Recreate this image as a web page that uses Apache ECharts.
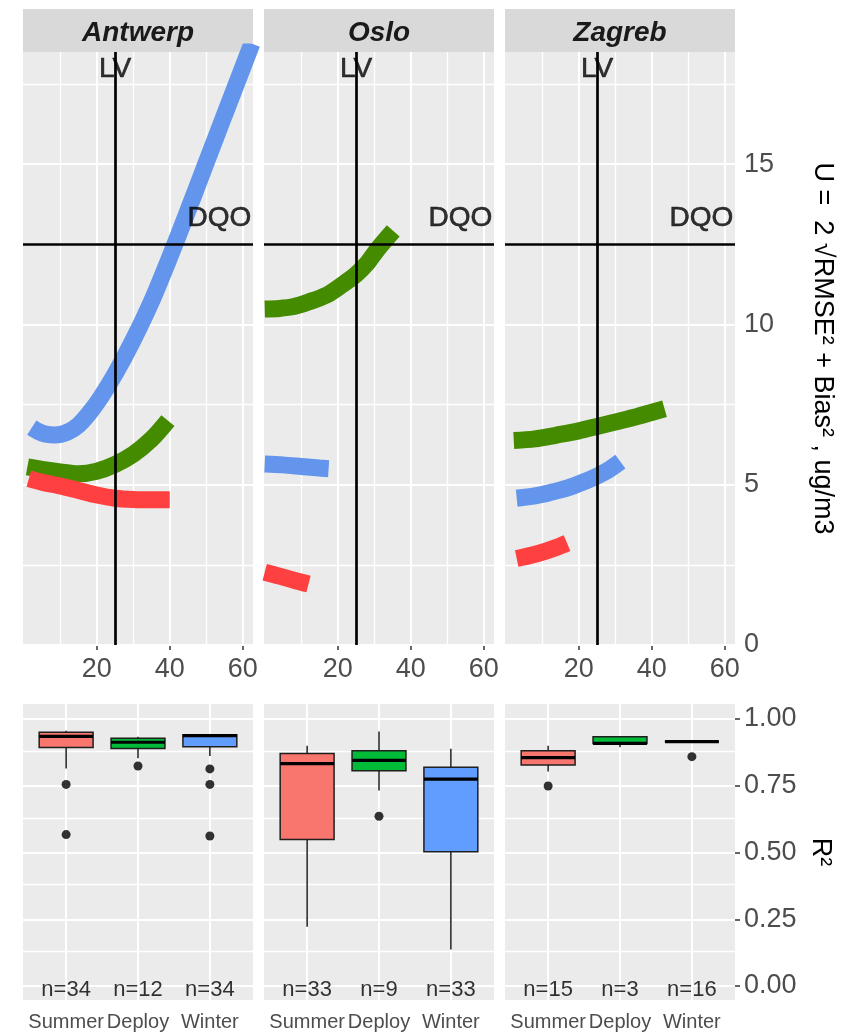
<!DOCTYPE html>
<html><head><meta charset="utf-8">
<script src="https://cdn.jsdelivr.net/npm/echarts@6/dist/echarts.min.js"></script>
<style>html,body{margin:0;padding:0;background:#fff}#c{width:846px;height:1036px}</style>
</head><body><div id="c"></div>
<script>
// ---------- data ----------
const cities = ['Antwerp', 'Oslo', 'Zagreb'];
const seasons = ['Summer', 'Deploy', 'Winter'];
const seasonColors = ['#F8766D', '#00BA38', '#619CFF'];
const curveColors = ['#458B00', '#6495ED', '#FF4040']; // green, blue, red

// U curves: [concentration, U]
const antwerpGreen = [[1,5.56],[5,5.48],[10,5.4],[15,5.34],[20,5.42],[25,5.63],[30,5.95],[35,6.42],[39.5,7.0]];
const antwerpBlue  = [[2.2,6.78],[4,6.66],[6,6.58],[8.5,6.55],[12,6.64],[15,6.86],[18,7.24],[21,7.71],[25,8.45],[30,9.52],[35,10.72],[40,12.1],[45,13.56],[50,15.05],[55,16.54],[60,18.02],[62.5,18.76]];
const antwerpRed   = [[1.4,5.19],[5,5.08],[10,4.96],[15,4.82],[20,4.68],[25,4.58],[30,4.54],[35,4.53],[40,4.53]];
const osloGreen = [[0,10.48],[4,10.5],[8,10.56],[12,10.7],[17,10.92],[21,11.22],[25,11.56],[28,11.9],[31,12.36],[35.2,12.92]];
const osloBlue  = [[0,5.65],[5,5.62],[10,5.57],[15,5.52],[17.5,5.5]];
const osloRed   = [[0,2.27],[4,2.15],[8,2.02],[12,1.9]];
const zagrebGreen = [[2.2,6.38],[8,6.43],[14,6.55],[20,6.68],[25,6.82],[30,6.96],[36,7.13],[43.5,7.37]];
const zagrebBlue  = [[3,4.58],[8,4.65],[12,4.75],[17,4.9],[21,5.07],[25,5.27],[28,5.45],[31.4,5.72]];
const zagrebRed   = [[3,2.7],[7,2.8],[11,2.93],[14,3.05],[16.8,3.18]];

// reference lines and annotations
const refLV = 25;
const refDQO = 12.5;
const annoLabels = ['LV', 'DQO'];
const annoX = [25, 53.6];
const annoY = [17.95, 13.3];

// boxplot stats per season: [min, q1, median, q3, max]
const antwerpBox = [[0.815,0.893,0.935,0.950,0.956],[0.853,0.890,0.913,0.928,0.934],[0.861,0.896,0.938,0.941,0.942]];
const osloBox    = [[0.222,0.549,0.833,0.871,0.900],[0.732,0.806,0.845,0.881,0.953],[0.137,0.503,0.775,0.819,0.889]];
const zagrebBox  = [[0.803,0.828,0.855,0.881,0.900],[0.894,0.908,0.909,0.934,0.936],[0.915,0.915,0.915,0.915,0.915]];
// outliers: [season position, R2]
const antwerpOut = [[1,0.755],[1,0.567],[2,0.824],[3,0.813],[3,0.755],[3,0.562]];
const osloOut    = [[2,0.636]];
const zagrebOut  = [[1,0.749],[3,0.859]];
const antwerpN = [34, 12, 34];
const osloN    = [33, 9, 33];
const zagrebN  = [15, 3, 16];
const nLabelY = 0;

// axes ticks / grid breaks
const topXTicks = [20, 40, 60];
const topXMinor = [10, 30, 50];
const topYTicks = [0, 5, 10, 15];
const topYMinor = [2.5, 7.5, 12.5, 17.5];
const boxXTicks = [1, 2, 3];
const boxYTicks = [0, 0.25, 0.5, 0.75, 1];
const boxYMinor = [0.125, 0.375, 0.625, 0.875];

const curves = [[antwerpGreen, antwerpBlue, antwerpRed],[osloGreen, osloBlue, osloRed],[zagrebGreen, zagrebBlue, zagrebRed]];
const boxes = [antwerpBox, osloBox, zagrebBox];
const outs = [antwerpOut, osloOut, zagrebOut];
const ns = [antwerpN, osloN, zagrebN];

// ---------- layout ----------
const FONT = 'Liberation Sans';
const panelLeft = [23, 264, 505];
const panelW = 230;
const topT = 52, topH = 593, botT = 704, botH = 296;
const boxWidth = 0.75;

const grids = [], xAxes = [], yAxes = [], series = [];

function gridLineData(xMaj, xMin, yMaj, yMin) {
  const d = [];
  xMaj.forEach(v => d.push({xAxis: v, lineStyle: {color: '#fff', width: 2, type: 'solid'}}));
  xMin.forEach(v => d.push({xAxis: v, lineStyle: {color: '#fff', width: 1.3, type: 'solid'}}));
  yMaj.forEach(v => d.push({yAxis: v, lineStyle: {color: '#fff', width: 2, type: 'solid'}}));
  yMin.forEach(v => d.push({yAxis: v, lineStyle: {color: '#fff', width: 1.3, type: 'solid'}}));
  return d;
}
function markLineOpt(data, z) {
  return {silent: true, z: z, symbol: ['none', 'none'], animation: false,
    label: {show: false}, emphasis: {disabled: true},
    lineStyle: {type: 'solid'}, data: data};
}
const tickStyle = {color: '#333333', width: 1.5};

cities.forEach((c, i) => {
  grids.push({left: panelLeft[i], top: topT, width: panelW, height: topH, show: true,
    backgroundColor: '#EBEBEB', borderWidth: 0, containLabel: false, outerBoundsMode: 'none'});
});
cities.forEach((c, i) => {
  grids.push({left: panelLeft[i], top: botT, width: panelW, height: botH, show: true,
    backgroundColor: '#EBEBEB', borderWidth: 0, containLabel: false, outerBoundsMode: 'none'});
});

// top axes
cities.forEach((c, i) => {
  xAxes.push({gridIndex: i, type: 'value', min: -0.2, max: 62.8,
    axisLine: {show: false}, splitLine: {show: false},
    axisTick: {show: true, customValues: topXTicks, length: 5, lineStyle: tickStyle},
    axisLabel: {customValues: topXTicks, margin: 11, fontSize: 27, color: '#4D4D4D', fontFamily: FONT}});
  const last = i === 2;
  yAxes.push({gridIndex: i, type: 'value', min: 0, max: 18.5, position: 'right',
    axisLine: {show: false}, splitLine: {show: false},
    axisTick: {show: last, customValues: topYTicks, length: 5, lineStyle: tickStyle},
    axisLabel: {show: last, customValues: topYTicks, margin: 9, fontSize: 27, color: '#4D4D4D', fontFamily: FONT},
    name: last ? 'U =  2 \u221ARMSE\u00B2 + Bias\u00B2 , ug/m3' : '',
    nameLocation: 'middle', nameRotate: -90, nameGap: 74,
    nameTextStyle: {fontSize: 27, color: '#000', fontFamily: FONT}});
});
// bottom axes
cities.forEach((c, i) => {
  xAxes.push({gridIndex: 3 + i, type: 'value', min: 0.4, max: 3.6,
    axisLine: {show: false}, splitLine: {show: false},
    axisTick: {show: true, customValues: boxXTicks, length: 5, lineStyle: tickStyle},
    axisLabel: {customValues: boxXTicks, margin: 12, fontSize: 20, color: '#4D4D4D', fontFamily: FONT,
      formatter: v => seasons[Math.round(v) - 1]}});
  const last = i === 2;
  yAxes.push({gridIndex: 3 + i, type: 'value', min: -0.0524, max: 1.0562, position: 'right',
    axisLine: {show: false}, splitLine: {show: false},
    axisTick: {show: last, customValues: boxYTicks, length: 5, lineStyle: tickStyle},
    axisLabel: {show: last, customValues: boxYTicks, margin: 9, fontSize: 27, color: '#4D4D4D', fontFamily: FONT,
      formatter: v => v.toFixed(2)},
    name: last ? 'R\u00B2' : '',
    nameLocation: 'middle', nameRotate: -90, nameGap: 72,
    nameTextStyle: {fontSize: 27, color: '#000', fontFamily: FONT}});
});

// top series
cities.forEach((c, i) => {
  series.push({type: 'line', xAxisIndex: i, yAxisIndex: i, data: [], silent: true,
    markLine: markLineOpt(gridLineData(topXTicks, topXMinor, topYTicks, topYMinor), 1)});
  curves[i].forEach((arr, k) => {
    series.push({type: 'line', xAxisIndex: i, yAxisIndex: i, data: arr, showSymbol: false, symbol: 'none',
      smooth: 0.3, clip: true, silent: true, z: 3 + k, animation: false,
      lineStyle: {width: 17, color: curveColors[k], cap: 'butt'}});
  });
  series.push({type: 'line', xAxisIndex: i, yAxisIndex: i, data: [], silent: true,
    markLine: markLineOpt([
      {xAxis: refLV, lineStyle: {color: '#000', width: 2.7, type: 'solid'}},
      {yAxis: refDQO, lineStyle: {color: '#000', width: 2.7, type: 'solid'}}], 10)});
  series.push({type: 'scatter', xAxisIndex: i, yAxisIndex: i, silent: true, z: 12,
    symbolSize: 1, itemStyle: {color: 'rgba(0,0,0,0)'},
    data: annoLabels.map((t, k) => ({name: t, value: [annoX[k], annoY[k]]})),
    label: {show: true, position: 'inside', formatter: '{b}', fontSize: 28, color: '#000',
      textBorderColor: '#000', textBorderWidth: 0.6, fontFamily: FONT}});
});

// bottom series
function renderBox(params, api) {
  const x = api.value(0);
  const lo = api.coord([x, api.value(1)]);
  const q1 = api.coord([x, api.value(2)]);
  const md = api.coord([x, api.value(3)]);
  const q3 = api.coord([x, api.value(4)]);
  const hi = api.coord([x, api.value(5)]);
  const half = api.size([boxWidth, 0])[0] / 2;
  const fill = seasonColors[api.value(6)];
  const st = {stroke: '#1f1f1f', lineWidth: 1.5};
  return {type: 'group', children: [
    {type: 'line', shape: {x1: lo[0], y1: lo[1], x2: q1[0], y2: q1[1]}, style: st},
    {type: 'line', shape: {x1: q3[0], y1: q3[1], x2: hi[0], y2: hi[1]}, style: st},
    {type: 'rect', shape: {x: q3[0] - half, y: q3[1], width: 2 * half, height: q1[1] - q3[1]},
      style: {fill: fill, stroke: '#1f1f1f', lineWidth: 1.5}},
    {type: 'line', shape: {x1: md[0] - half, y1: md[1], x2: md[0] + half, y2: md[1]},
      style: {stroke: '#000', lineWidth: 3.2}}
  ]};
}
cities.forEach((c, i) => {
  const gi = 3 + i;
  series.push({type: 'line', xAxisIndex: gi, yAxisIndex: gi, data: [], silent: true,
    markLine: markLineOpt(gridLineData(boxXTicks, [], boxYTicks, boxYMinor), 1)});
  series.push({type: 'custom', xAxisIndex: gi, yAxisIndex: gi, silent: true, z: 3,
    renderItem: renderBox,
    data: boxes[i].map((s, k) => [k + 1, s[0], s[1], s[2], s[3], s[4], k])});
  series.push({type: 'scatter', xAxisIndex: gi, yAxisIndex: gi, silent: true, z: 4,
    symbol: 'circle', symbolSize: 9, itemStyle: {color: '#000'}, data: outs[i]});
  series.push({type: 'scatter', xAxisIndex: gi, yAxisIndex: gi, silent: true, z: 5,
    symbolSize: 1, itemStyle: {color: 'rgba(0,0,0,0)'},
    data: ns[i].map((n, k) => ({name: 'n=' + n, value: [k + 1, nLabelY]})),
    label: {show: true, position: 'inside', offset: [0, 4], formatter: '{b}', fontSize: 22, color: '#000', fontFamily: FONT}});
});

// strips
const graphic = [];
cities.forEach((c, i) => {
  graphic.push({type: 'rect', left: panelLeft[i], top: 9, shape: {width: panelW, height: 43},
    style: {fill: '#D9D9D9'}, silent: true});
  graphic.push({type: 'text', x: panelLeft[i] + panelW / 2, y: 33, silent: true,
    style: {text: c, align: 'center', verticalAlign: 'middle', fill: '#1A1A1A',
      font: 'italic bold 28px "Liberation Sans"'}});
});

const chart = echarts.init(document.getElementById('c'), null, {renderer: 'canvas'});
chart.setOption({
  animation: false,
  backgroundColor: '#fff',
  textStyle: {fontFamily: FONT},
  grid: grids, xAxis: xAxes, yAxis: yAxes, series: series, graphic: graphic
});
</script></body></html>
